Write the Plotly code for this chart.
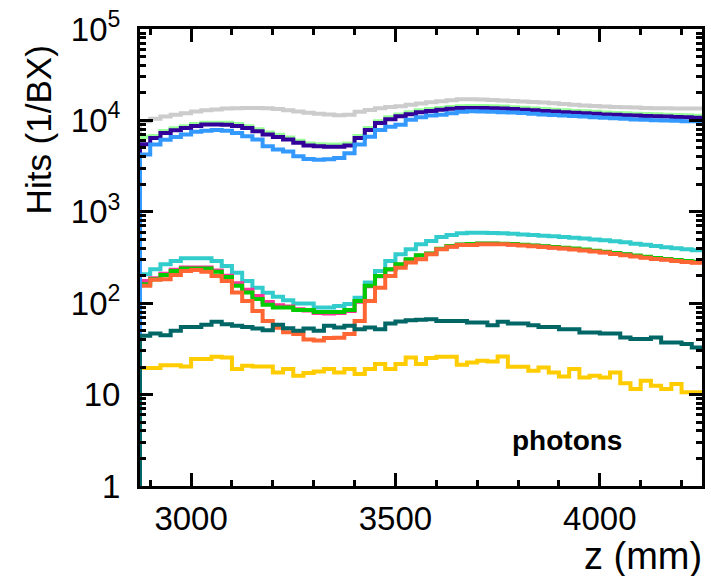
import numpy as np
import plotly.graph_objects as go

# Histogram binning (z in mm)
Z_MIN = 2875.0
Z_MAX = 4250.0
N_BINS = 55

# Series values (hits per BX) per bin
gray = [9800, 10400, 11000, 11500, 12000, 12500, 12900, 13200, 13500, 13600,
        13700, 13700, 13600, 13300, 12900, 12500, 12100, 11800, 11600, 11400,
        11500, 12400, 13000, 13600, 14000, 14300, 14800, 15300, 15800, 16200,
        16600, 17000, 17000, 16900, 16700, 16500, 16300, 16100, 15900, 15700,
        15400, 15100, 14800, 14600, 14400, 14200, 14000, 13900, 13800, 13700,
        13600, 13600, 13500, 13500, 13500]
lightgreen = [6600, 6750, 7650, 8200, 8650, 9150, 9450, 9450, 9450, 9150,
              8650, 8000, 7350, 6950, 6500, 6000, 5600, 5500, 5450, 5450,
              5600, 6750, 8250, 9800, 10800, 11600, 12300, 12900, 13300, 13700,
              14000, 14300, 14350, 14350, 14250, 14150, 13950, 13750, 13500, 13300,
              13100, 12900, 12700, 12600, 12400, 12200, 12050, 11950, 11850, 11750,
              11650, 11550, 11450, 11350, 11250]
purple = [5480, 6430, 7280, 7800, 8250, 8700, 9000, 9000, 8990, 8700,
          8250, 7600, 7000, 6600, 6170, 5700, 5300, 5200, 5150, 5150,
          5300, 6430, 7870, 9350, 10300, 11090, 11700, 12300, 12700, 13100,
          13400, 13650, 13700, 13700, 13600, 13500, 13300, 13100, 12900, 12700,
          12500, 12300, 12100, 12000, 11800, 11600, 11500, 11400, 11300, 11200,
          11100, 11000, 10900, 10800, 10700]
blue = [4230, 5450, 6140, 6600, 7000, 7520, 7700, 7870, 7700, 7280,
        6700, 6170, 5210, 4800, 4560, 4060, 3790, 3700, 3750, 3880,
        4370, 5450, 6640, 7870, 8500, 8990, 10170, 10800, 11300, 11530,
        12000, 12400, 12570, 12500, 12400, 12300, 12200, 12040, 11800, 11600,
        11450, 11300, 11150, 11000, 10850, 10700, 10550, 10400, 10250, 10170,
        10050, 9950, 9900, 9800, 9780]
cyan = [207, 235, 267, 290, 310, 310, 310, 290, 255, 216,
        175, 148, 130, 118, 108, 99, 99, 90, 90, 93,
        98, 115, 168, 225, 290, 343, 389, 441, 479, 530,
        557, 581, 590, 590, 588, 583, 575, 566, 557, 548,
        540, 530, 520, 510, 498, 487, 475, 463, 448, 435,
        422, 410, 400, 390, 380]
pink = [175, 188, 210, 232, 246, 246, 246, 228, 200, 165,
        140, 120, 103, 95, 92, 86, 83, 78, 77, 78,
        82, 104, 153, 197, 233, 264, 299, 332, 347, 391,
        418, 436, 441, 446, 446, 444, 440, 432, 424, 416,
        408, 400, 392, 382, 372, 362, 350, 340, 329, 319,
        309, 302, 294, 287, 281]
green = [161, 183, 204, 225, 239, 239, 239, 221, 194, 155,
         131, 111, 96, 90, 90, 84, 84, 80, 80, 80,
         84, 106, 155, 199, 235, 267, 302, 335, 350, 395,
         422, 440, 445, 450, 450, 448, 444, 436, 428, 420,
         412, 404, 396, 386, 376, 366, 354, 343, 332, 322,
         312, 305, 297, 290, 284]
orange = [155, 180, 183, 204, 225, 231, 221, 199, 175, 131,
          106, 82, 64, 54, 48, 46, 40, 39, 41.5, 42,
          46, 64, 106, 148, 199, 245, 278, 302, 343, 389,
          415, 433, 433, 441, 441, 441, 436, 428, 420, 412,
          404, 396, 388, 378, 368, 358, 345, 335, 325, 315,
          305, 298, 290, 283, 277]
yellow = [19.5, 19.5, 21, 21, 20.3, 24.5, 24.5, 25.9, 25.5, 19,
          20.7, 20.3, 20.3, 17.5, 19, 16.1, 17.2, 17.9, 19, 17.5,
          19, 16.8, 19, 21.6, 19, 21.6, 25.5, 21.6, 25.1, 25.9,
          25.9, 21.2, 22.5, 23.5, 23, 26.1, 20.2, 20.2, 18.2, 19.8,
          17.5, 15.8, 19, 15.4, 16.1, 15.4, 17.5, 13.3, 11.5, 14.2,
          12.5, 11.5, 13.1, 10.6, 10.6]
teal = [44, 46.6, 44.7, 49.9, 55, 55, 58, 62.5, 59, 56.5,
        55, 52.8, 50.7, 58, 53.3, 49.9, 52.8, 49.9, 56.5, 54.2,
        56.5, 51.9, 54.2, 51.9, 59.9, 63, 65.2, 66, 66.9, 64,
        64, 64, 61.4, 61.4, 57.5, 62.6, 59.9, 59.9, 57.5, 55,
        55, 51.9, 51.9, 47.8, 47.8, 46.6, 46.6, 42.2, 40.5, 40.5,
        42.2, 37.1, 37.1, 35.7, 32.7]

# Drawing order (last on top) and colours
series = [
    ("gray", gray, "#cccccc"),
    ("lightgreen", lightgreen, "#99ff99"),
    ("purple", purple, "#330099"),
    ("cyan", cyan, "#33cccc"),
    ("pink", pink, "#ff3399"),
    ("green", green, "#00cc00"),
    ("orange", orange, "#ff6633"),
    ("yellow", yellow, "#ffcc00"),
    ("blue", blue, "#3399ff"),
    ("teal", teal, "#006666"),
]

y_tickvals = [1, 10, 100, 1000, 10000, 100000]
y_ticktext = ["1", "10", "10<sup>2</sup>", "10<sup>3</sup>", "10<sup>4</sup>", "10<sup>5</sup>"]

edges = np.linspace(Z_MIN, Z_MAX, N_BINS + 1)

fig = go.Figure()
for name, vals, col in series:
    xs = [edges[0]] + list(edges[:-1]) + [edges[-1]]
    ys = [0.1] + list(vals) + [vals[-1]]
    fig.add_trace(go.Scatter(x=xs, y=ys, mode="lines", line_shape="hv",
                             line=dict(color=col, width=4), name=name,
                             showlegend=False, hoverinfo="skip"))

FONT = "Liberation Sans, Arial, Helvetica, sans-serif"
minor_y = [m * 10 ** d for d in range(0, 5) for m in range(2, 10)]

fig.update_layout(
    width=711, height=576,
    margin=dict(l=140, r=6, t=28, b=90),
    paper_bgcolor="white", plot_bgcolor="white",
    font=dict(family=FONT, color="black"),
    xaxis=dict(range=[Z_MIN, Z_MAX], tickmode="linear", tick0=3000, dtick=500,
               ticks="inside", ticklen=13, tickwidth=3, tickcolor="black",
               showline=True, linewidth=3, linecolor="black", mirror="ticks",
               showgrid=False, zeroline=False,
               tickfont=dict(size=33, family=FONT), ticklabelstandoff=1,
               minor=dict(ticks="inside", ticklen=6, tickwidth=3, tickcolor="black",
                          dtick=100, tick0=3000, showgrid=False)),
    yaxis=dict(type="log", range=[0, 5], tickmode="array", tickvals=y_tickvals,
               ticktext=y_ticktext,
               ticks="inside", ticklen=13, tickwidth=3, tickcolor="black",
               showline=True, linewidth=3, linecolor="black", mirror="ticks",
               showgrid=False, zeroline=False,
               tickfont=dict(size=33, family=FONT), ticklabelstandoff=10,
               minor=dict(ticks="inside", ticklen=6, tickwidth=3, tickcolor="black",
                          tickmode="array", tickvals=minor_y, showgrid=False)),
    annotations=[
        dict(text="Hits (1/BX)", xref="paper", yref="paper", x=-0.18, y=0.78,
             xanchor="center", yanchor="middle", textangle=-90, showarrow=False,
             font=dict(size=35, family=FONT)),
        dict(text="z (mm)", xref="paper", yref="paper", x=1.004, y=-0.153,
             xanchor="right", yanchor="middle", showarrow=False,
             font=dict(size=38, family=FONT)),
        dict(text="<b>photons</b>", xref="paper", yref="paper", x=0.759, y=0.100,
             xanchor="center", yanchor="middle", showarrow=False,
             font=dict(size=28, family=FONT)),
    ],
)

fig.write_html("out.html")
